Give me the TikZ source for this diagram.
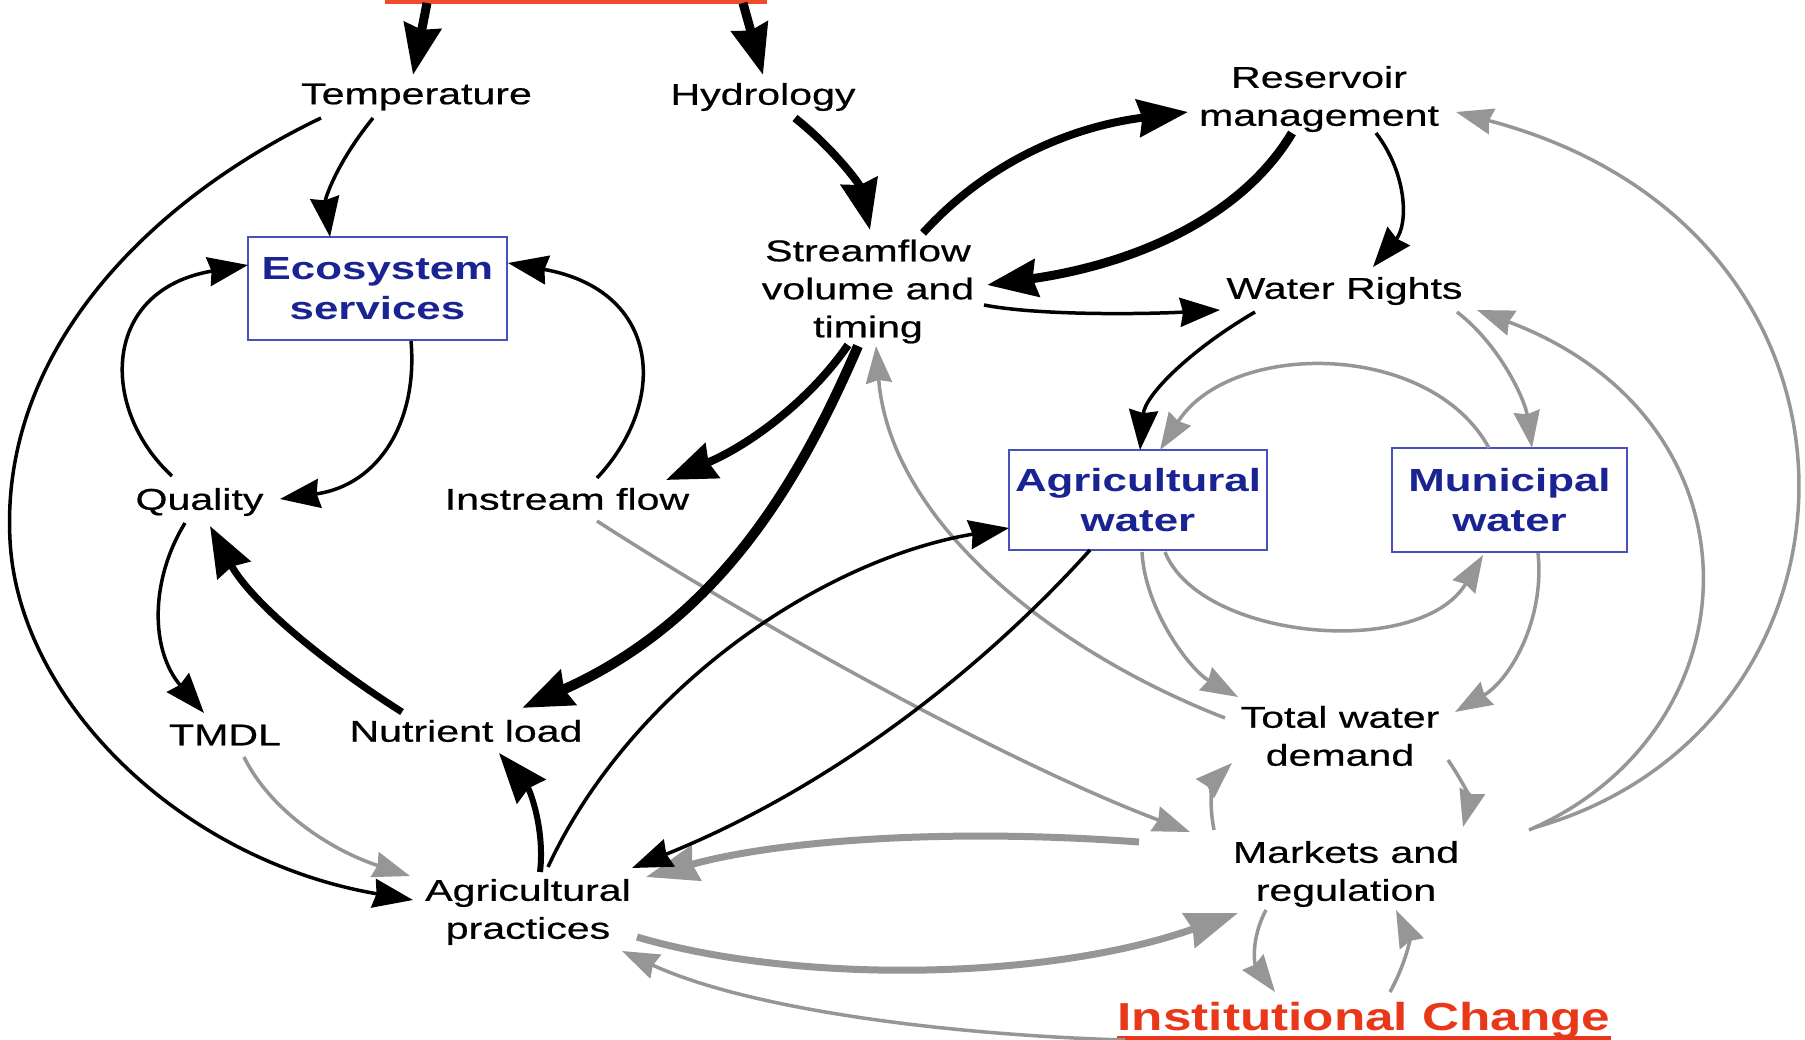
\documentclass[tikz,border=0pt]{standalone}
\usepackage{fontspec}
\setmainfont{Liberation Sans}[FakeStretch=1.37, UprightFeatures={FakeBold=0.6}]
\newfontfamily\instfont{Liberation Sans}[FakeStretch=1.315]
\usetikzlibrary{arrows.meta,calc}
\definecolor{grayc}{RGB}{150,150,150}
\definecolor{navy}{RGB}{25,35,145}
\definecolor{boxblue}{RGB}{70,80,190}
\definecolor{titlered}{RGB}{240,75,45}
\definecolor{instred}{RGB}{232,55,25}
\tikzset{
  lbl/.style={font=\fontsize{30}{38}\selectfont, align=center, inner sep=0pt},
  boxn/.style={draw=boxblue, line width=2pt, text=navy, font=\fontsize{32}{40}\selectfont\bfseries, align=center, inner sep=0pt},
  bk/.style={draw=black, line width=3.5pt, -{Stealth[length=40pt,width=29pt,inset=3pt]}},
  bkt/.style={draw=black, line width=#1pt, -{Stealth[length=50pt,width=37pt,inset=4pt]}},
  gr/.style={draw=grayc, line width=3.5pt, -{Stealth[length=37pt,width=26pt,inset=3pt]}},
  grthick/.style={draw=grayc, line width=7pt, -{Stealth[length=52pt,width=36pt,inset=4pt]}},
}
\begin{document}
\begin{tikzpicture}[x=1pt,y=-1pt]
\useasboundingbox (0,0) rectangle (1805,1040);
\fill[white] (0,0) rectangle (1805,1040);

% nodes
\node[fill=titlered, minimum width=382pt, minimum height=5pt, inner sep=0pt] (title) at (576,2) {};
\node[lbl] (temp) at (416.5,97) {Temperature};
\node[lbl] (hydro) at (763,97) {Hydrology};
\node[lbl] (res) at (1319,99) {Reservoir\\management};
\node[boxn, minimum width=259pt, minimum height=103pt] (eco) at (377.5,288.5) {Ecosystem\\services};
\node[lbl] (stream) at (868,291.5) {Streamflow\\volume and\\timing};
\node[lbl] (wr) at (1344.5,291) {Water Rights};
\node[lbl] (qual) at (199.5,502) {Quality};
\node[lbl] (instr) at (567,499) {Instream flow};
\node[boxn, minimum width=258pt, minimum height=100pt] (agw) at (1138,500) {Agricultural\\water};
\node[boxn, minimum width=235pt, minimum height=104pt] (mun) at (1509.5,500) {Municipal\\water};
\node[lbl] (tmdl) at (225,735) {TMDL};
\node[lbl] (nut) at (466,731) {Nutrient load};
\node[lbl] (tot) at (1340,736) {Total water\\demand};
\node[lbl] (mkt) at (1346,874) {Markets and\\regulation};
\node[lbl] (agp) at (528,912) {Agricultural\\practices};
\node[font=\instfont\fontsize{39}{46}\selectfont\bfseries, text=instred, inner sep=0pt] (inst) at (1364,1020) {Institutional Change};
\draw[instred, line width=3.5pt] ($(inst.base west)+(0,8)$) -- ($(inst.base east)+(0,8)$);

% gray connectors
\draw[gr] ($(instr)+(30,22)$) .. controls (750,620) and (1000,760) .. ($(mkt)+(-156,-42)$);
\draw[gr] ($(tot)+(-115,-18)$) .. controls (1050,650) and (890,520) .. ($(stream)+(8,54.5)$);
\draw[gr] ($(agw)+(4,52)$) .. controls (1145,610) and (1190,670) .. ($(tot)+(-102,-39)$);
\draw[gr] ($(agw)+(27,52)$) .. controls (1200,640) and (1420,660) .. ($(mun)+(-26.5,55)$);
\draw[gr] ($(mun)+(-20.5,-52)$) .. controls (1430,340) and (1230,340) .. ($(agw)+(22,-50)$);
\draw[gr] ($(wr)+(112.5,21)$) .. controls (1500,345) and (1525,400) .. ($(mun)+(22.5,-52)$);
\draw[gr] ($(mkt)+(183,-44)$) .. controls (1760,730) and (1770,420) .. ($(wr)+(132.5,19)$);
\draw[gr] ($(mkt)+(187,-46)$) .. controls (1885,730) and (1905,230) .. ($(res)+(137,13)$);
\draw[gr] ($(tot)+(108,24)$) .. controls (1465,785) and (1470,800) .. ($(mkt)+(117,-47)$);
\draw[gr] ($(mkt)+(-132,-44)$) .. controls (1208,800) and (1214,780) .. ($(tot)+(-108,27)$);
\draw[gr] ($(mun)+(28.5,53)$) .. controls (1545,620) and (1510,680) .. ($(tot)+(115,-24)$);
\draw[grthick] ($(mkt)+(-207,-32)$) .. controls (950,828) and (780,840) .. ($(agp)+(118,-35)$);
\draw[grthick] ($(agp)+(109,25)$) .. controls (800,985) and (1050,980) .. ($(mkt)+(-108,39)$);
\draw[gr] ($(inst)+(-239,20)$) .. controls (950,1035) and (750,1010) .. ($(agp)+(94,39)$);
\draw[gr] ($(mkt)+(-80,36)$) .. controls (1250,940) and (1255,965) .. ($(inst)+(-89,-28)$);
\draw[gr] ($(inst)+(26,-28)$) .. controls (1405,965) and (1410,940) .. ($(mkt)+(50,36)$);
\draw[gr] ($(tmdl)+(19,22)$) .. controls (270,810) and (330,850) .. ($(agp)+(-118,-36)$);

% black connectors
\draw[bkt={9}] ($(title)+(-149,1)$) -- ($(temp)+(-3.5,-22)$);
\draw[bkt={9}] ($(title)+(167,1)$) -- ($(hydro)+(0,-22)$);
\draw[bk] ($(temp)+(-43.5,21)$) .. controls (335,165) and (325,200) .. ($(eco)+(-47.5,-51.5)$);
\draw[bk] ($(temp)+(-95.5,21)$) .. controls (150,200) and (0,350) .. (10,540) .. controls (18,700) and (180,860) .. ($(agp)+(-115,-12)$);
\draw[bk] ($(eco)+(33.5,52.5)$) .. controls (418,420) and (380,485) .. ($(qual)+(80.5,-3)$);
\draw[bk] ($(qual)+(-27.5,-26)$) .. controls (100,410) and (100,290) .. ($(eco)+(-129.5,-23.5)$);
\draw[bk] ($(instr)+(30,-21)$) .. controls (670,400) and (660,290) .. ($(eco)+(130.5,-25.5)$);
\draw[bkt={8}] ($(hydro)+(32,21)$) .. controls (835,150) and (860,185) .. ($(stream)+(2,-61.5)$);
\draw[bkt={8}] ($(stream)+(55,-58.5)$) .. controls (980,170) and (1060,128) .. ($(res)+(-131,13)$);
\draw[bkt={9}] ($(res)+(-27,34)$) .. controls (1240,220) and (1130,265) .. ($(stream)+(119,-6.5)$);
\draw[bk] ($(res)+(57,34)$) .. controls (1408,175) and (1408,225) .. ($(wr)+(28.5,-24)$);
\draw[bk] ($(stream)+(116,13.5)$) .. controls (1040,316) and (1150,314) .. ($(wr)+(-124.5,19)$);
\draw[bk] ($(wr)+(-89.5,21)$) .. controls (1190,350) and (1145,395) .. ($(agw)+(2,-50)$);
\draw[bkt={8}] ($(stream)+(-20,53.5)$) .. controls (810,400) and (750,445) .. ($(instr)+(99,-19)$);
\draw[bkt={10}] ($(stream)+(-10,54.5)$) .. controls (800,480) and (720,620) .. ($(nut)+(56,-23)$);
\draw[bkt={7}] ($(nut)+(-64,-19)$) .. controls (320,660) and (250,600) .. ($(qual)+(10.5,24)$);
\draw[bk] ($(qual)+(-14.5,21)$) .. controls (150,580) and (150,650) .. ($(tmdl)+(-21,-22)$);
\draw[bkt={6}] ($(agp)+(12,-40)$) .. controls (545,830) and (530,790) .. ($(nut)+(33,22)$);
\draw[bk] ($(agp)+(20,-45)$) .. controls (630,690) and (820,560) .. ($(agw)+(-129,28)$);
\draw[bk] ($(agw)+(-48,50)$) .. controls (1000,650) and (850,780) .. ($(agp)+(104,-44)$);
\end{tikzpicture}
\end{document}
